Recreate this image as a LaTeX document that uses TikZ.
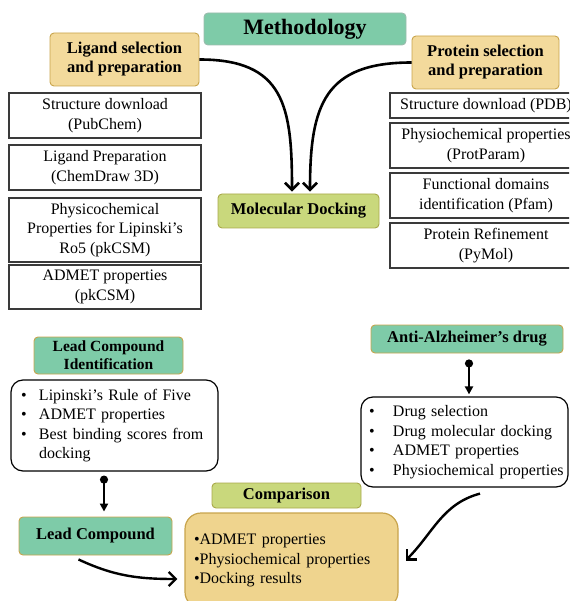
\documentclass[tikz,border=0pt]{standalone}
\usepackage{fontspec}
\setmainfont{Liberation Serif}
\usetikzlibrary{arrows.meta}

\definecolor{headgreen}{HTML}{7ECBA8}
\definecolor{headtan}{HTML}{F3DA9C}
\definecolor{headlime}{HTML}{C9D87C}
\definecolor{cmptan}{HTML}{EFD48E}
\definecolor{tanedge}{HTML}{C8A44C}
\definecolor{limeedge}{HTML}{A9A84A}
\definecolor{boxedge}{HTML}{3A3A3A}

\tikzset{
  txt/.style={font=\fontsize{16}{19.5}\selectfont},
  headbox/.style={font=\fontsize{16.5}{19}\selectfont\bfseries, rounded corners=4pt, line width=0.9pt, align=center, inner sep=0pt},
  greenhead/.style={headbox, fill=headgreen, draw=tanedge},
  tanhead/.style={headbox, fill=headtan, draw=tanedge},
  limehead/.style={headbox, fill=headlime, draw=limeedge},
  stepbox/.style={txt, draw=boxedge, line width=1.2pt, align=center, minimum width=192pt, inner sep=0pt},
  listbox/.style={txt, draw=black, line width=1.2pt, rounded corners=12pt, fill=white, align=left},
  bigarrow/.style={line width=2.6pt, -{Straight Barb[length=7pt,width=14pt]}},
  dotarrow/.style={line width=2.4pt, {Circle[length=8pt]}-{Triangle[length=8pt,width=8pt]}},
}

\begin{document}
\begin{tikzpicture}[x=1pt, y=-1pt]
  \useasboundingbox (0,0) rectangle (569,601);
  \clip (0,0) rectangle (569,601);

  % headings of the docking part
  \node[greenhead, draw=headgreen!70!black!60, font=\fontsize{22}{26}\selectfont\bfseries, minimum width=202pt, minimum height=32pt] (method) at (305,29) {Methodology};
  \node[tanhead, minimum width=149pt, minimum height=53pt] (ligand) at (124.5,59.5) {Ligand selection\\and preparation};
  \node[tanhead, minimum width=147pt, minimum height=53pt] (protein) at (485.5,62.5) {Protein selection\\and preparation};
  \node[limehead, minimum width=161pt, minimum height=34pt] (dock) at (298.5,211) {Molecular Docking};

  % ligand steps
  \node[stepbox, minimum height=45pt] (pubchem) at (105,115.5) {Structure download\\(PubChem)};
  \node[stepbox, minimum height=45pt] (chemdraw) at (105,167.5) {Ligand Preparation\\(ChemDraw 3D)};
  \node[stepbox, minimum height=64pt] (lipinski) at (105,230) {Physicochemical\\Properties for Lipinski’s\\Ro5 (pkCSM)};
  \node[stepbox, minimum height=44pt] (pkcsm) at (105,287) {ADMET properties\\(pkCSM)};

  % protein steps (cut by the right edge as in the figure)
  \node[stepbox, minimum height=25pt] (pdb) at (486,105.5) {Structure download (PDB)};
  \node[stepbox, minimum height=45pt] (protparam) at (486,145.5) {Physiochemical properties\\(ProtParam)};
  \node[stepbox, minimum height=45pt] (pfam) at (486,195.5) {Functional domains\\identification (Pfam)};
  \node[stepbox, minimum height=45pt] (pymol) at (486,245.5) {Protein Refinement\\(PyMol)};

  \draw[bigarrow] (ligand.east) to[out=0, in=90, looseness=1.35] ([xshift=-6.5pt, yshift=2pt]dock.north);
  \draw[bigarrow] (protein.west) to[out=180, in=90, looseness=1.35] ([xshift=11.5pt, yshift=2pt]dock.north);

  % lead compound side
  \node[greenhead, font=\fontsize{15.5}{18}\selectfont\bfseries, minimum width=149pt, minimum height=37pt] (leadid) at (108.5,355.5) {Lead Compound\\Identification};
  \node[listbox, minimum height=91pt, text width=187pt, inner xsep=10pt] (leadlist) at (114.5,425.5)
    {\noindent\begin{tabular}{@{}p{18pt}@{}l@{}}
      \textbullet & Lipinski’s Rule of Five\\
      \textbullet & ADMET properties\\
      \textbullet & Best binding scores from\\
                  & docking
    \end{tabular}};
  \node[greenhead, minimum width=153pt, minimum height=38pt] (lead) at (95.5,536) {Lead Compound};

  % drug side
  \node[greenhead, minimum width=192pt, minimum height=28pt] (antiad) at (467,339) {Anti-Alzheimer’s drug};
  \node[listbox, minimum height=90pt, text width=191pt, inner xsep=8pt] (druglist) at (464.5,442)
    {\noindent\begin{tabular}{@{}p{24pt}@{}l@{}}
      \textbullet & Drug selection\\
      \textbullet & Drug molecular docking\\
      \textbullet & ADMET properties\\
      \textbullet & Physiochemical properties
    \end{tabular}};

  % comparison
  \node[limehead, minimum width=149pt, minimum height=25pt] (cmp) at (286.5,495.5) {Comparison};
  \node[txt, fill=cmptan, draw=tanedge, line width=1.2pt, rounded corners=16pt, minimum height=95pt, text width=195pt, inner xsep=9pt, align=left] (cmpbox) at (291.5,560.5)
    {\textbullet ADMET properties\\\textbullet Physiochemical properties\\\textbullet Docking results};

  \draw[dotarrow, shorten <=4pt, shorten >=5pt] ([xshift=-10.5pt]leadlist.south) -- ([xshift=-10.5pt]leadlist.south |- lead.north);
  \draw[dotarrow, shorten <=6pt, shorten >=2pt] ([xshift=2pt]antiad.south) -- ([xshift=2pt]antiad.south |- druglist.north);
  \draw[bigarrow, line width=2.4pt] ([xshift=-17pt, yshift=-4pt]lead.south) to[out=-25, in=180] ([xshift=-7pt, yshift=-18.5pt]cmpbox.west);
  \draw[bigarrow, line width=2.4pt] ([xshift=15.5pt, yshift=-6pt]druglist.south) to[out=195, in=45] ([xshift=7pt]cmpbox.east);
\end{tikzpicture}
\end{document}
